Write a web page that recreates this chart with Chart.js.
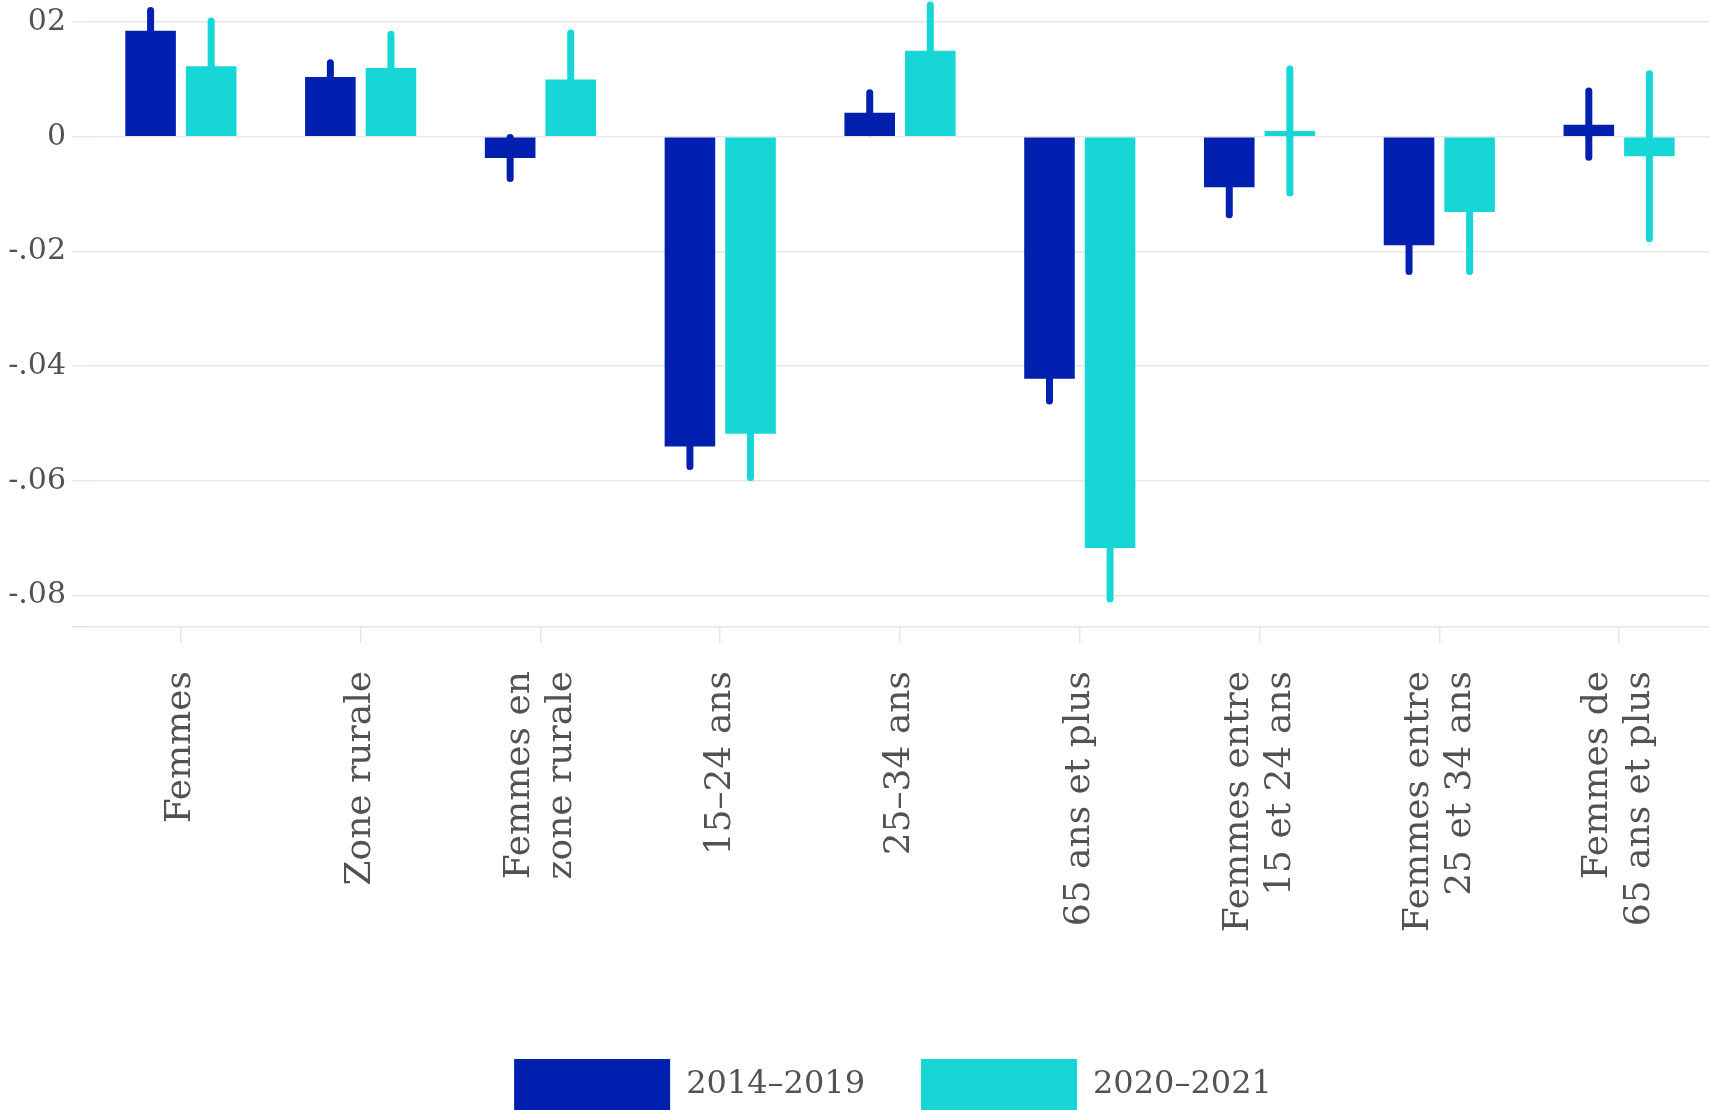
<!DOCTYPE html>
<html>
<head>
<meta charset="utf-8">
<script src="https://cdn.jsdelivr.net/npm/chart.js@4.4.1/dist/chart.umd.min.js"></script>
<style>
  html, body { margin: 0; padding: 0; background: #fff; overflow: hidden; }
  #wrap { width: 1711px; height: 1121px; position: relative; }
</style>
</head>
<body>
<div id="wrap"><canvas id="chart"></canvas></div>
<script>
// categories (one array of lines per label)
const categories = [
  ['Femmes'],
  ['Zone rurale'],
  ['Femmes en', 'zone rurale'],
  ['15–24 ans'],
  ['25–34 ans'],
  ['65 ans et plus'],
  ['Femmes entre', '15 et 24 ans'],
  ['Femmes entre', '25 et 34 ans'],
  ['Femmes de', '65 ans et plus']
];
const seriesNames = ['2014–2019', '2020–2021'];

// point estimates
const mean2014 = [0.0185, 0.0104, -0.0037, -0.0540, 0.0042, -0.0422, -0.0088, -0.0189, 0.0021];
const mean2020 = [0.0123, 0.0120, 0.0100, -0.0518, 0.0150, -0.0717, 0.0010, -0.0131, -0.0034];

// confidence intervals
const low2014 = [0.0144, 0.0073, -0.0079, -0.0581, 0.0001, -0.0467, -0.0142, -0.0241, -0.0042];
const high2014 = [0.0226, 0.0135, 0.0005, -0.0499, 0.0083, -0.0377, -0.0034, -0.0137, 0.0086];
const low2020 = [0.0038, 0.0055, 0.0013, -0.0600, 0.0064, -0.0812, -0.0104, -0.0241, -0.0184];
const high2020 = [0.0208, 0.0185, 0.0187, -0.0436, 0.0236, -0.0622, 0.0124, -0.0021, 0.0116];

// y axis
const yTickValues = [-0.08, -0.06, -0.04, -0.02, 0, 0.02];
const yTickLabels = ['-.08', '-.06', '-.04', '-.02', '0', '02'];
const yMin = -0.08547;
const yMax = 0.02384;

const blue = '#0220b0';
const cyan = '#16d7d6';
const gridColor = '#e6e6e6';
const textColor = '#525252';
const fontFamily = "'DejaVu Serif', serif";

const barOpts = { categoryPercentage: 0.674, barPercentage: 0.835, borderWidth: 0 };
const ciOpts = { categoryPercentage: 0.674, barPercentage: 0.835, maxBarThickness: 7, borderRadius: 4, borderSkipped: false, borderWidth: 0 };

// x labels: drawn rotated, lines centred on the tick
const xLabels = {
  id: 'xLabels',
  afterLayout(chart) {
    // legend sits a little left of the plot centre
    chart.legend.left -= 7;
    chart.legend.right -= 7;
  },
  afterDraw(chart) {
    const { ctx } = chart;
    const x = chart.scales.x;
    ctx.save();
    ctx.font = '36px ' + fontFamily;
    ctx.fillStyle = textColor;
    ctx.textAlign = 'right';
    ctx.textBaseline = 'middle';
    categories.forEach((lines, i) => {
      const px = x.getPixelForTick(i);
      lines.forEach((line, j) => {
        ctx.save();
        ctx.translate(px + (j - (lines.length - 1) / 2) * 42, x.top + 44);
        ctx.rotate(-Math.PI / 2);
        ctx.fillText(line, 0, 0);
        ctx.restore();
      });
    });
    ctx.restore();
  }
};

new Chart(document.getElementById('chart'), {
  type: 'bar',
  data: {
    labels: categories,
    datasets: [
      { label: seriesNames[0], data: mean2014, backgroundColor: blue, stack: 'a', ...barOpts },
      { label: seriesNames[1], data: mean2020, backgroundColor: cyan, stack: 'b', ...barOpts },
      { label: 'ci1', data: low2014.map((l, i) => [l, high2014[i]]), backgroundColor: blue, stack: 'a', ...ciOpts },
      { label: 'ci2', data: low2020.map((l, i) => [l, high2020[i]]), backgroundColor: cyan, stack: 'b', ...ciOpts }
    ]
  },
  options: {
    responsive: true,
    maintainAspectRatio: false,
    animation: false,
    layout: { padding: { top: 0, left: 0, right: 2, bottom: 0 } },
    plugins: {
      tooltip: { enabled: false },
      legend: {
        position: 'bottom',
        fullSize: false,
        labels: {
          filter: item => item.datasetIndex < 2,
          boxWidth: 156,
          boxHeight: 52,
          padding: 56,
          color: textColor,
          font: { family: fontFamily, size: 32 }
        }
      }
    },
    scales: {
      x: {
        stacked: true,
        offset: true,
        grid: { display: true, drawOnChartArea: false, drawTicks: true, tickLength: 16, tickColor: gridColor, color: gridColor, offset: false, lineWidth: 1.5 },
        border: { display: false },
        ticks: { display: false },
        afterFit: s => { s.height = 376; }
      },
      y: {
        stacked: false,
        min: yMin,
        max: yMax,
        afterBuildTicks: s => { s.ticks = [yMin, ...yTickValues].map(v => ({ value: v })); },
        ticks: {
          autoSkip: false,
          padding: 6,
          color: textColor,
          font: { family: fontFamily, size: 30 },
          callback: v => { const k = yTickValues.indexOf(v); return k < 0 ? '' : yTickLabels[k]; }
        },
        grid: { color: gridColor, lineWidth: 1.5, drawTicks: true, tickLength: 19, tickColor: gridColor },
        border: { display: false },
        afterFit: s => { s.width = 91; s.paddingTop = 0; s.paddingBottom = 0; }
      }
    }
  },
  plugins: [xLabels]
});
</script>
</body>
</html>
